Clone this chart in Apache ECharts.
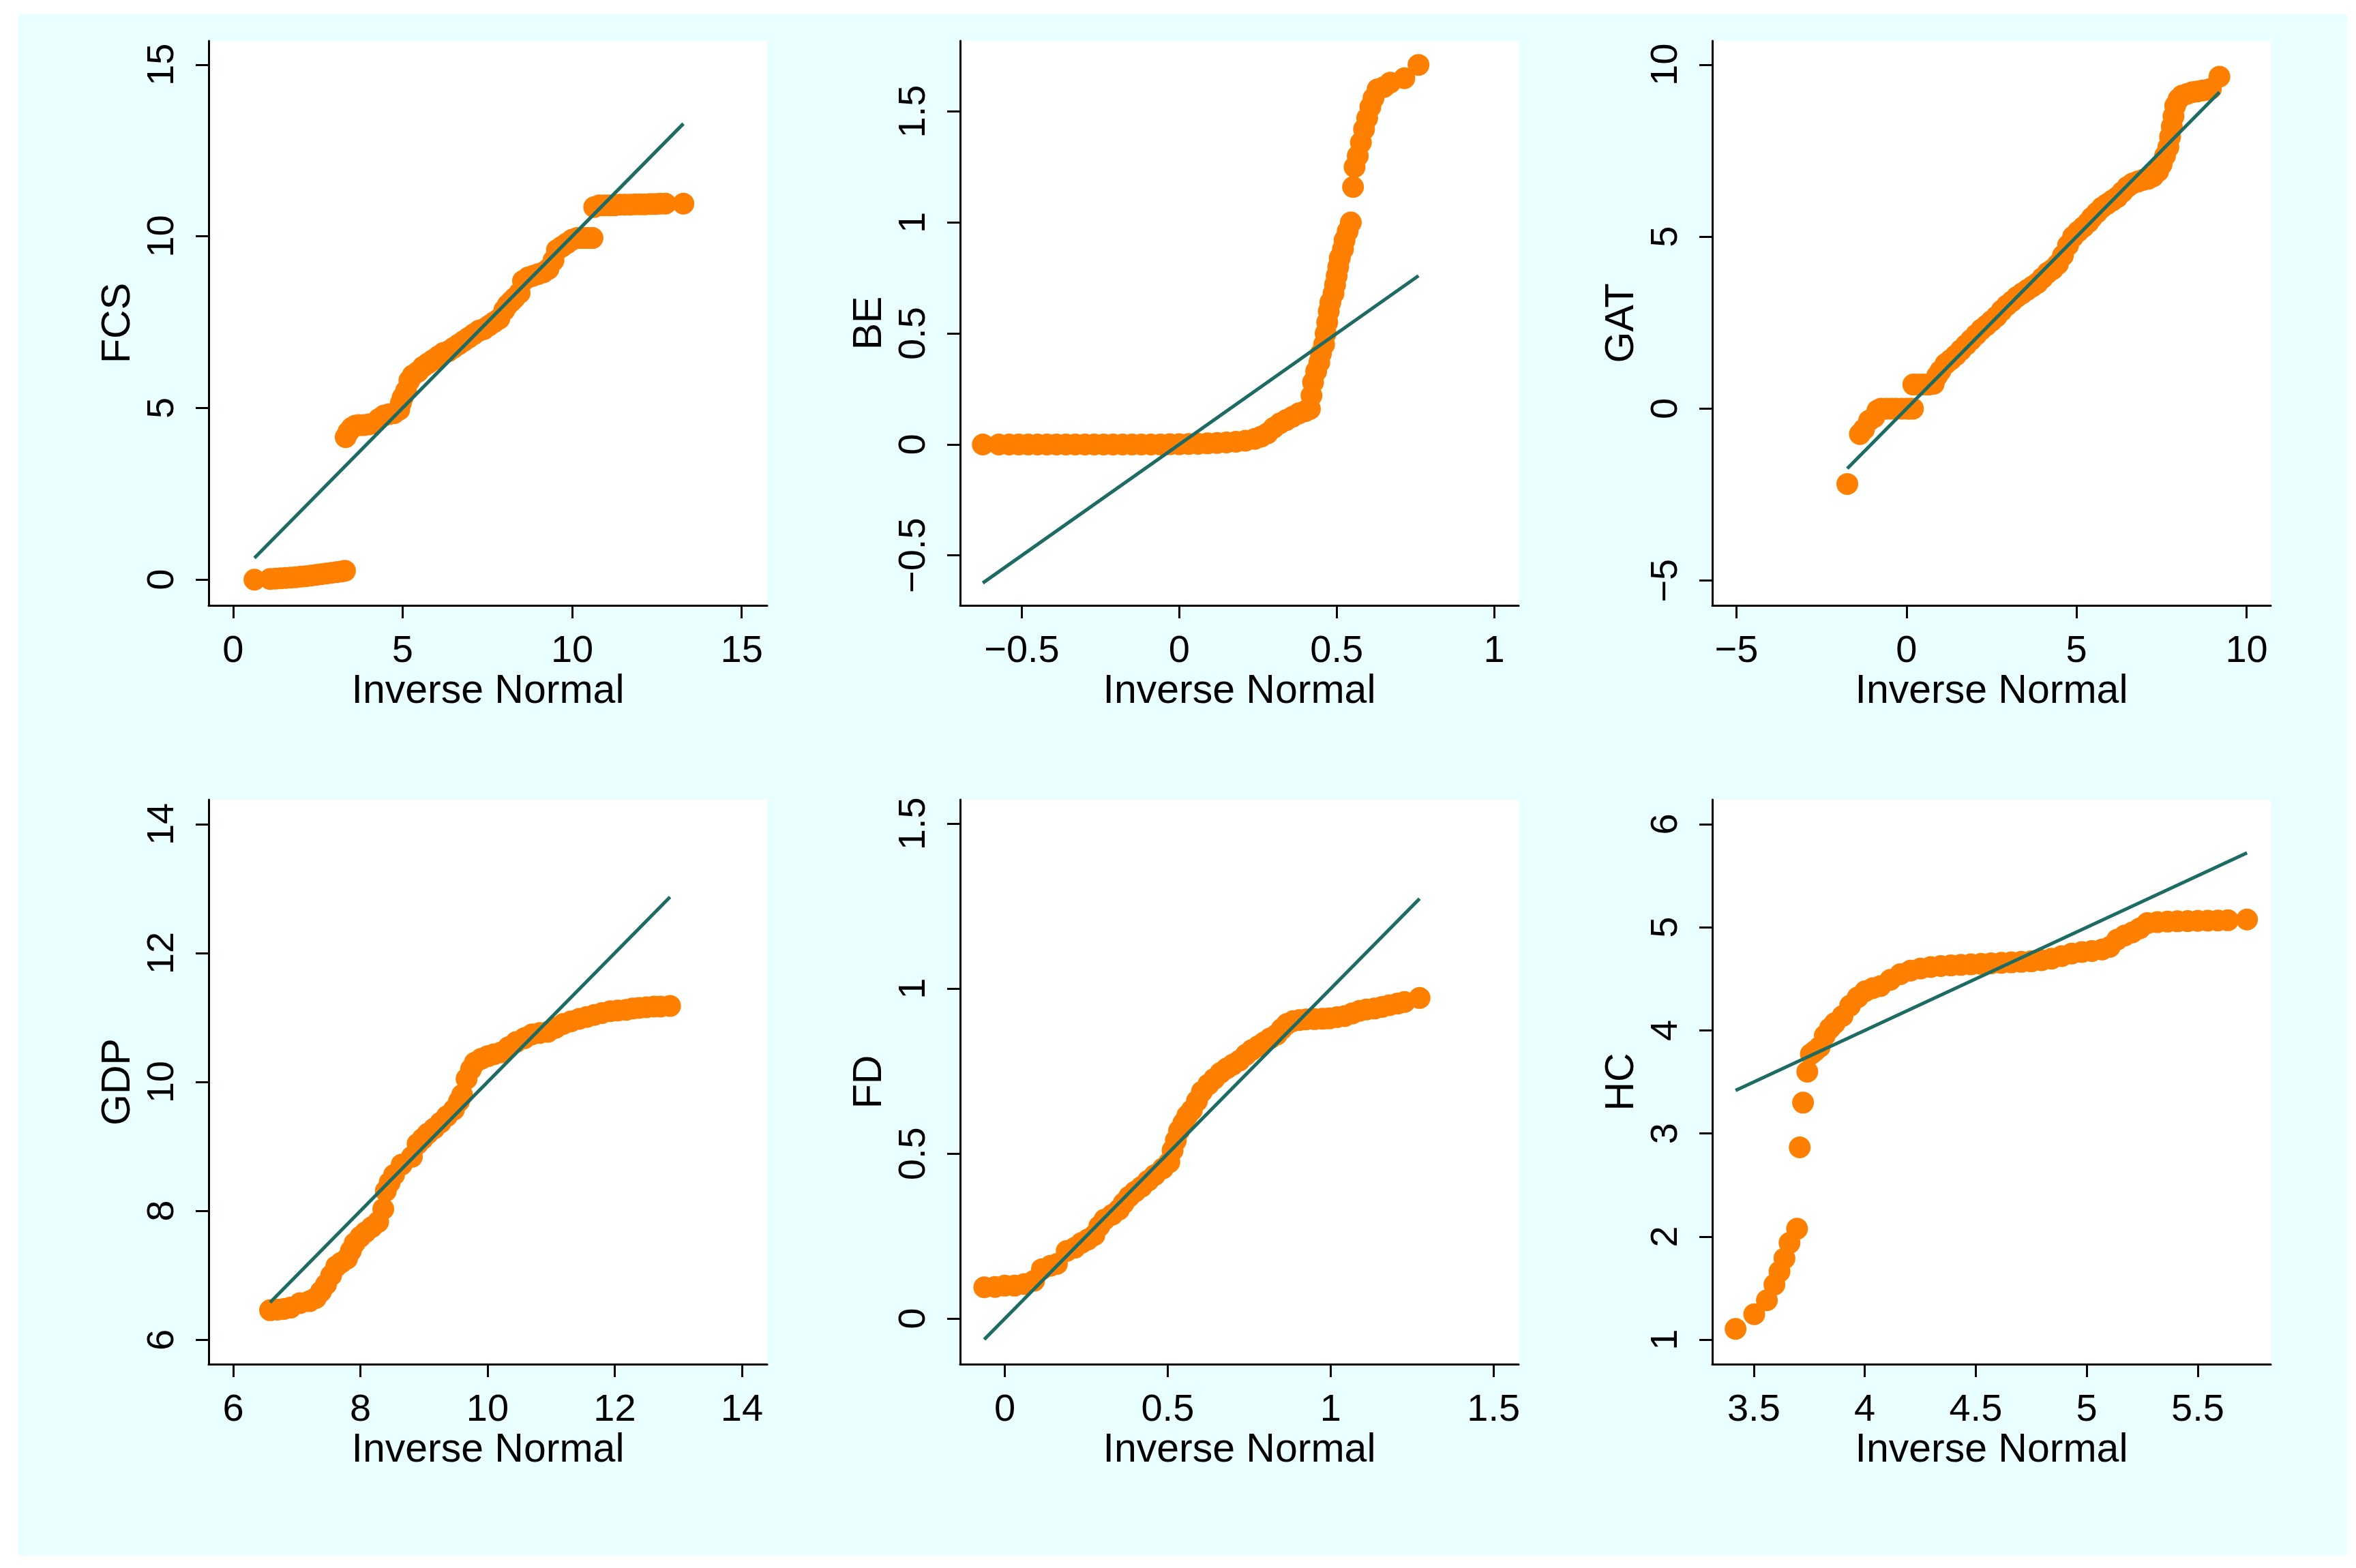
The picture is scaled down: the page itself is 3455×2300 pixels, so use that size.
<!DOCTYPE html>
<html>
<head>
<meta charset="utf-8">
<script src="https://cdn.jsdelivr.net/npm/echarts@6/dist/echarts.min.js"></script>
<style>
html,body{margin:0;padding:0;background:#ffffff;width:3455px;height:2300px;overflow:hidden;}
#panel{position:absolute;left:27px;top:21px;width:3415px;height:2261px;background:#eaffff;}
#chart{position:absolute;left:0;top:0;width:3455px;height:2300px;}
</style>
</head>
<body>
<div id="panel"></div>
<div id="chart"></div>
<script>
// ---- Data ----
const xAxisTitle = 'Inverse Normal';
const panelNames = ['FCS', 'BE', 'GAT', 'GDP', 'FD', 'HC'];

// FCS
const fcsX = [0.63,1.09,1.25,1.4,1.55,1.7,1.85,2.0,2.15,2.3,2.45,2.6,2.75,2.9,3.05,3.2,3.3,
  3.32,3.4,3.5,3.6,3.7,3.85,4.0,4.15,4.3,4.45,4.6,4.75,4.9,4.95,5.0,5.1,5.2,5.3,5.45,5.6,5.75,5.9,6.05,6.2,6.35,6.5,6.65,6.8,6.95,7.1,7.25,7.4,7.55,7.7,7.85,8.0,8.1,8.2,8.3,8.45,8.55,8.7,8.85,9.0,9.15,9.3,9.45,9.55,9.7,9.85,10.0,10.15,10.3,10.45,10.6,
  10.65,10.8,10.95,11.1,11.25,11.4,11.55,11.7,11.85,12.0,12.15,12.3,12.45,12.6,12.75,13.28];
const fcsY = [0.0,0.02,0.03,0.04,0.05,0.06,0.07,0.09,0.1,0.12,0.14,0.16,0.18,0.2,0.22,0.24,0.26,
  4.15,4.3,4.42,4.48,4.5,4.5,4.52,4.55,4.68,4.78,4.82,4.85,4.95,5.15,5.3,5.5,5.8,5.95,6.05,6.2,6.3,6.4,6.5,6.6,6.65,6.75,6.85,6.95,7.05,7.15,7.25,7.3,7.4,7.5,7.6,7.85,8.0,8.1,8.2,8.35,8.7,8.8,8.85,8.9,8.95,9.05,9.3,9.6,9.7,9.8,9.9,9.95,9.95,9.95,9.95,
  10.85,10.9,10.9,10.9,10.9,10.92,10.92,10.92,10.93,10.93,10.93,10.94,10.94,10.95,10.95,10.95];

// BE
const beX = [-0.624,-0.573,-0.54,-0.51,-0.48,-0.45,-0.42,-0.39,-0.36,-0.33,-0.3,-0.27,-0.24,-0.21,-0.18,-0.15,-0.12,-0.09,-0.06,-0.03,0.0,
  0.03,0.06,0.09,0.12,0.15,0.18,0.21,0.24,0.26,0.28,0.30,0.32,0.34,0.36,0.38,0.40,0.415,0.42,0.425,0.435,0.445,0.45,0.46,0.465,0.47,0.475,0.48,0.49,0.495,0.50,0.505,0.51,0.52,0.525,0.535,0.545,
  0.552,0.557,0.567,0.577,0.587,0.597,0.607,0.617,0.63,0.65,0.67,0.715,0.76];
const beY = [0,0,0,0,0,0,0,0,0,0,0,0,0,0,0,0,0,0,0,0.001,0.001,
  0.002,0.003,0.005,0.007,0.009,0.012,0.017,0.025,0.035,0.05,0.075,0.095,0.11,0.125,0.14,0.15,0.16,0.22,0.28,0.33,0.37,0.41,0.45,0.5,0.55,0.6,0.64,0.68,0.72,0.76,0.8,0.84,0.88,0.92,0.96,1.0,
  1.16,1.25,1.3,1.36,1.42,1.47,1.52,1.56,1.6,1.61,1.63,1.65,1.71];

// GAT
const gatX = [-1.74,-1.37,-1.25,-1.1,-0.95,-0.85,-0.75,-0.6,-0.45,-0.3,-0.15,0.0,0.1,0.19,
  0.2,0.35,0.5,0.65,0.8,0.9,1.0,1.15,1.3,1.45,1.6,1.75,1.9,2.05,2.2,2.35,2.5,2.65,2.8,2.95,3.1,3.25,3.4,3.55,3.7,3.85,4.0,4.15,4.3,4.45,4.6,4.75,4.9,5.05,5.2,5.35,
  5.45,5.6,5.75,5.9,6.05,6.2,6.35,6.5,6.65,6.8,6.95,7.1,7.25,7.4,7.5,7.6,7.7,7.75,7.8,7.85,7.9,8.0,8.1,8.25,8.4,8.55,8.7,8.85,8.95,9.2];
const gatY = [-2.19,-0.74,-0.6,-0.35,-0.25,-0.05,0.0,0.0,0.0,0.0,0.0,0.0,0.0,0.0,
  0.7,0.7,0.7,0.7,0.72,0.95,1.1,1.3,1.42,1.55,1.7,1.85,2.0,2.15,2.3,2.42,2.55,2.68,2.85,3.0,3.12,3.25,3.35,3.45,3.55,3.65,3.8,3.95,4.05,4.2,4.45,4.75,5.0,5.15,5.28,5.42,
  5.55,5.7,5.85,5.95,6.05,6.15,6.3,6.45,6.55,6.6,6.65,6.68,6.75,6.9,7.1,7.35,7.6,7.9,8.2,8.5,8.8,9.0,9.1,9.15,9.2,9.22,9.25,9.27,9.3,9.65];

// GDP
const gdpX = [6.58,6.7,6.8,6.9,7.05,7.2,7.3,7.38,7.46,7.54,7.62,7.7,7.79,7.85,7.91,8.0,8.08,8.18,8.28,8.36,8.4,8.46,8.53,8.65,8.81,8.9,8.98,9.06,9.16,9.26,9.36,9.47,9.55,9.6,9.67,9.74,9.8,9.9,
  10.0,10.1,10.21,10.33,10.45,10.58,10.7,10.82,10.95,11.07,11.19,11.31,11.44,11.56,11.68,11.8,11.93,12.05,12.18,12.28,12.38,12.5,12.62,12.72,12.87];
const gdpY = [6.46,6.47,6.48,6.5,6.57,6.6,6.65,6.75,6.86,7.0,7.14,7.2,7.26,7.38,7.5,7.6,7.67,7.75,7.83,8.03,8.31,8.44,8.56,8.72,8.84,9.04,9.12,9.2,9.28,9.37,9.47,9.57,9.7,9.8,10.05,10.2,10.3,10.36,
  10.4,10.43,10.46,10.54,10.62,10.68,10.74,10.76,10.78,10.84,10.9,10.94,10.98,11.01,11.04,11.07,11.1,11.11,11.12,11.14,11.15,11.16,11.17,11.17,11.18];

// FD
const fdX = [-0.063,-0.03,0.0,0.03,0.06,0.09,0.114,0.14,0.16,0.19,0.215,0.236,0.255,0.275,0.29,0.306,0.33,0.35,0.365,0.382,0.4,0.42,0.44,0.46,0.485,0.505,0.515,0.525,0.535,0.548,0.56,0.574,0.59,0.605,0.625,0.643,0.662,0.682,0.7,0.72,0.74,0.758,0.778,0.797,0.815,0.835,0.85,0.866,0.885,0.904,0.925,0.95,0.975,0.996,1.02,1.043,1.066,1.089,1.11,1.135,1.158,1.18,1.205,1.227,1.273];
const fdY = [0.095,0.096,0.1,0.1,0.105,0.115,0.15,0.16,0.166,0.205,0.215,0.23,0.24,0.253,0.28,0.3,0.315,0.33,0.35,0.37,0.385,0.4,0.418,0.435,0.455,0.474,0.51,0.54,0.57,0.593,0.615,0.632,0.66,0.688,0.71,0.727,0.745,0.759,0.77,0.782,0.8,0.814,0.826,0.838,0.85,0.861,0.878,0.893,0.902,0.905,0.907,0.908,0.909,0.91,0.914,0.917,0.925,0.933,0.937,0.94,0.945,0.95,0.955,0.96,0.972];

// HC
const hcX = [3.418,3.502,3.559,3.593,3.616,3.638,3.661,3.695,3.707,3.722,3.741,3.757,3.775,3.797,3.82,3.843,3.865,3.9,3.934,3.968,4.002,4.036,4.07,4.115,4.16,4.206,4.251,4.297,4.342,4.388,4.433,4.478,4.524,4.569,4.615,4.66,4.705,4.75,4.796,4.841,4.887,4.932,4.978,5.023,5.069,5.103,5.137,5.171,5.205,5.239,5.273,5.318,5.364,5.409,5.455,5.5,5.545,5.591,5.636,5.722];
const hcY = [1.106,1.248,1.384,1.536,1.662,1.789,1.94,2.077,2.866,3.30,3.60,3.77,3.8,3.84,3.95,4.02,4.07,4.14,4.24,4.32,4.38,4.41,4.43,4.49,4.545,4.58,4.6,4.615,4.625,4.63,4.635,4.64,4.645,4.65,4.655,4.66,4.665,4.67,4.68,4.695,4.72,4.745,4.76,4.77,4.785,4.81,4.88,4.92,4.95,4.99,5.04,5.05,5.055,5.058,5.06,5.062,5.064,5.066,5.068,5.075];

// Tick labels
const fcsXTicks = [0,5,10,15],   fcsYTicks = [0,5,10,15];
const beXTicks = [-0.5,0,0.5,1], beYTicks = [-0.5,0,0.5,1,1.5];
const gatXTicks = [-5,0,5,10],   gatYTicks = [-5,0,5,10];
const gdpXTicks = [6,8,10,12,14], gdpYTicks = [6,8,10,12,14];
const fdXTicks = [0,0.5,1,1.5],  fdYTicks = [0,0.5,1,1.5];
const hcXTicks = [3.5,4,4.5,5,5.5], hcYTicks = [1,2,3,4,5,6];

// ---- Layout / style ----
const panels = [
  {name:'FCS', x:fcsX, y:fcsY, xt:fcsXTicks, yt:fcsYTicks, xr:[-0.72,15.75], yr:[-0.75,15.69], left:306, top:60},
  {name:'BE',  x:beX,  y:beY,  xt:beXTicks,  yt:beYTicks,  xr:[-0.696,1.078], yr:[-0.725,1.818], left:1408, top:60},
  {name:'GAT', x:gatX, y:gatY, xt:gatXTicks, yt:gatYTicks, xr:[-5.71,10.71], yr:[-5.72,10.69], left:2511, top:60},
  {name:'GDP', x:gdpX, y:gdpY, xt:gdpXTicks, yt:gdpYTicks, xr:[5.614,14.397], yr:[5.623,14.38], left:306, top:1173},
  {name:'FD',  x:fdX,  y:fdY,  xt:fdXTicks,  yt:fdYTicks,  xr:[-0.137,1.577], yr:[-0.138,1.573], left:1408, top:1173},
  {name:'HC',  x:hcX,  y:hcY,  xt:hcXTicks,  yt:hcYTicks,  xr:[3.313,5.829], yr:[0.764,6.237], left:2511, top:1173}
];
const W = 819, H = 828;
const FONT = 'Liberation Sans, Arial, Helvetica, sans-serif';
const FS = 56, FST = 59;
const fmt = v => String(v).replace('-', '\u2212');

const grid = [], xAxis = [], yAxis = [], series = [];
panels.forEach((p, i) => {
  grid.push({left:p.left, top:p.top, width:W, height:H, show:true, backgroundColor:'#ffffff', borderWidth:0, containLabel:false, outerBoundsMode:'none'});
  const axisCommon = {
    axisLine:{show:true, onZero:false, lineStyle:{color:'#000', width:3}},
    axisTick:{show:true, length:19, lineStyle:{color:'#000', width:3}},
    splitLine:{show:false},
    nameLocation:'middle',
    nameTextStyle:{fontFamily:FONT, fontSize:FST, color:'#000'}
  };
  xAxis.push(Object.assign({}, axisCommon, {
    type:'value', gridIndex:i, min:p.xr[0], max:p.xr[1],
    name:xAxisTitle, nameGap:93,
    axisTick:Object.assign({}, axisCommon.axisTick, {customValues:p.xt}),
    axisLabel:{customValues:p.xt, formatter:fmt, fontFamily:FONT, fontSize:FS, color:'#000', margin:40}
  }));
  yAxis.push(Object.assign({}, axisCommon, {
    type:'value', gridIndex:i, min:p.yr[0], max:p.yr[1],
    name:p.name, nameGap:103,
    axisTick:Object.assign({}, axisCommon.axisTick, {customValues:p.yt}),
    axisLabel:{customValues:p.yt, formatter:fmt, fontFamily:FONT, fontSize:FS, color:'#000', margin:39, rotate:90}
  }));
  series.push({
    type:'scatter', xAxisIndex:i, yAxisIndex:i,
    data:p.x.map((v, k) => [v, p.y[k]]),
    symbol:'circle', symbolSize:32,
    itemStyle:{color:'#ff7f00', opacity:1},
    z:2, silent:true
  });
  const x0 = p.x[0], x1 = p.x[p.x.length - 1];
  series.push({
    type:'line', xAxisIndex:i, yAxisIndex:i,
    data:[[x0, x0], [x1, x1]],
    showSymbol:false, symbol:'none',
    lineStyle:{color:'#1d6b62', width:5},
    z:3, silent:true
  });
});

const chart = echarts.init(document.getElementById('chart'), null, {renderer:'canvas', width:3455, height:2300});
chart.setOption({
  animation:false,
  backgroundColor:'transparent',
  grid, xAxis, yAxis, series
});
</script>
</body>
</html>
